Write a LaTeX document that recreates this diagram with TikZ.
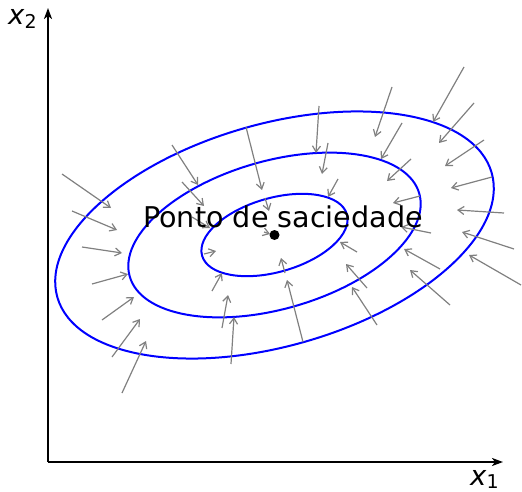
\documentclass[tikz,border=0pt]{standalone}
\usepackage{fontspec}
\setmainfont{DejaVu Sans}
\usepackage{tikz}
\usetikzlibrary{arrows.meta}
\tikzset{
  axis/.style={draw=black,line width=2pt,-{Stealth[length=11pt,width=8pt,inset=3pt]}},
  contour/.style={draw=blue,line width=2pt},
  field/.style={draw=gray,line width=1.2pt,-{Straight Barb[length=6pt,width=8pt]}},
  label/.style={inner sep=0pt,anchor=base west,font=\fontsize{27.5}{30}\selectfont}
}
\newcommand{\axlab}[2]{\textit{#1}\raisebox{-3.5pt}{\fontsize{19}{20}\selectfont #2}}

\begin{document}
\begin{tikzpicture}[x=1pt,y=-1pt]
    \useasboundingbox (0,0) rectangle (522,492);
    \coordinate (origin) at (48,462);
    \coordinate (c) at (274.5,235);
    % axes
    \draw[axis] (origin) -- (48,8) coordinate (ytip);
    \draw[axis] (origin) -- (503,462) coordinate (xtip);
    \node[label] (xtwo) at (8,25) {\axlab{x}{2}};
    \node[label] (xone) at (470,485) {\axlab{x}{1}};
    % level curves
    \foreach \s in {1,2,3}
      \draw[contour,rotate around={16:(c)}] (c) ellipse [x radius=75.3*\s,y radius=37*\s];
    % directions towards the optimum
    \foreach \ta/\tb/\ha/\hb in {
      62/174/111/208, 72/211/117/230, 172/145/198/185, 182/182/204/206,
      192/217/210/228, 82/247/122/253, 92/284/128/274, 102/320/134/297,
      112/357/140/319, 122/393/146/341, 204/254/216/251, 212/291/222/273,
      222/328/228/295, 231/364/234/317, 303/342/287/280, 285/273/281/258,
      357/252/340/242, 367/288/346/264, 377/325/352/287, 440/269/404/249,
      450/305/410/270, 521/285/469/255, 514/249/462/232, 504/213/457/210,
      492/177/451/188, 484/140/445/166, 474/103/439/143, 464/67/433/122,
      392/87/375/137, 402/123/381/159, 411/159/387/181, 420/196/393/203,
      431/233/401/227, 319/106/316/153, 328/143/322/174, 338/179/328/197,
      246/127/262/190, 265/198/269/211, 264/232/270/234}
      \draw[field] (\ta,\tb) -- (\ha,\hb);
    \fill[black] (c) circle (5pt);
    \node[inner sep=0pt,anchor=base,font=\fontsize{28.6}{32}\selectfont] (sat) at (283,227.3) {Ponto de saciedade};
  \end{tikzpicture}
\end{document}
